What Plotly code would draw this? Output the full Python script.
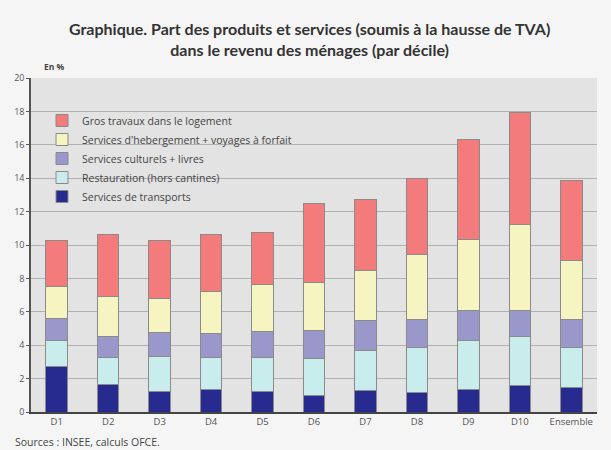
import plotly.graph_objects as go

categories = ["D1", "D2", "D3", "D4", "D5", "D6", "D7", "D8", "D9", "D10", "Ensemble"]
transports = [2.74, 1.64, 1.24, 1.36, 1.20, 1.00, 1.30, 1.16, 1.36, 1.56, 1.44]
restauration = [1.52, 1.60, 2.10, 1.88, 2.04, 2.20, 2.40, 2.68, 2.94, 2.98, 2.42]
culturels = [1.32, 1.26, 1.40, 1.46, 1.60, 1.66, 1.76, 1.72, 1.76, 1.52, 1.70]
hebergement = [1.96, 2.44, 2.06, 2.54, 2.82, 2.90, 3.00, 3.90, 4.24, 5.14, 3.54]
gros_travaux = [2.72, 3.66, 3.46, 3.40, 3.08, 4.74, 4.24, 4.50, 6.00, 6.74, 4.74]
y_ticks = [0, 2, 4, 6, 8, 10, 12, 14, 16, 18, 20]

series = [
    ("Services de transports", transports, "#272a8e"),
    ("Restauration (hors cantines)", restauration, "#c9ecec"),
    ("Services culturels + livres", culturels, "#9a98cb"),
    ("Services d'hebergement + voyages à forfait", hebergement, "#f6f5c2"),
    ("Gros travaux dans le logement", gros_travaux, "#f47b7b"),
]

TITLE_FONT = "Lato, 'Open Sans', sans-serif"
FONT = "'Open Sans', Lato, sans-serif"

fig = go.Figure()
for name, vals, col in series:
    fig.add_trace(go.Bar(
        x=categories, y=vals, name=name,
        marker=dict(color=col, line=dict(color="#8a8a8a", width=1)),
    ))

plot_l, plot_r, plot_t, plot_b = 31, 597, 78, 412

def px_x(v):
    return (v - plot_l) / (plot_r - plot_l)

def px_y(v):
    return (plot_b - v) / (plot_b - plot_t)

fig.update_layout(
    width=611, height=450,
    barmode="stack", bargap=0.58,
    paper_bgcolor="#f5f5f5", plot_bgcolor="#e3e3e3",
    margin=dict(l=31, r=14, t=78, b=38),
    font=dict(family=FONT, size=10, color="#444"),
    showlegend=True,
    legend=dict(
        traceorder="reversed", x=px_x(42), y=px_y(106), xanchor="left", yanchor="top",
        bgcolor="rgba(0,0,0,0)", font=dict(size=10.5, color="#444", family=FONT),
        itemwidth=30, tracegroupgap=0,
    ),
    annotations=[
        dict(text="<b>Graphique. Part des produits et services (soumis à la hausse de TVA)<br>dans le revenu des ménages (par décile)</b>",
             x=px_x(309), y=px_y(39), xref="paper", yref="paper", showarrow=False,
             xanchor="center", yanchor="middle",
             font=dict(size=16, color="#333", family=TITLE_FONT), align="center"),
        dict(text="<b>En %</b>", x=px_x(42), y=px_y(67), xref="paper", yref="paper", showarrow=False,
             xanchor="left", yanchor="middle", font=dict(size=8.5, color="#444")),
        dict(text="Sources : INSEE, calculs OFCE.", x=px_x(13), y=px_y(442), xref="paper", yref="paper",
             showarrow=False, xanchor="left", yanchor="middle", font=dict(size=10.5, color="#444")),
    ],
)

fig.update_xaxes(showgrid=False, showline=True, linecolor="#444", linewidth=2,
                 ticks="", tickfont=dict(size=9.5, color="#555"))
fig.update_yaxes(range=[0, 20], tickvals=y_ticks, showgrid=True, gridcolor="#b0b0b0",
                 gridwidth=1, showline=True, linecolor="#555", linewidth=1.5,
                 ticks="outside", ticklen=3, tickcolor="#555", zeroline=False,
                 tickfont=dict(size=9, color="#555"))

fig.write_html("out.html", config={"displayModeBar": False},
               post_script="document.body.style.margin='0';")
